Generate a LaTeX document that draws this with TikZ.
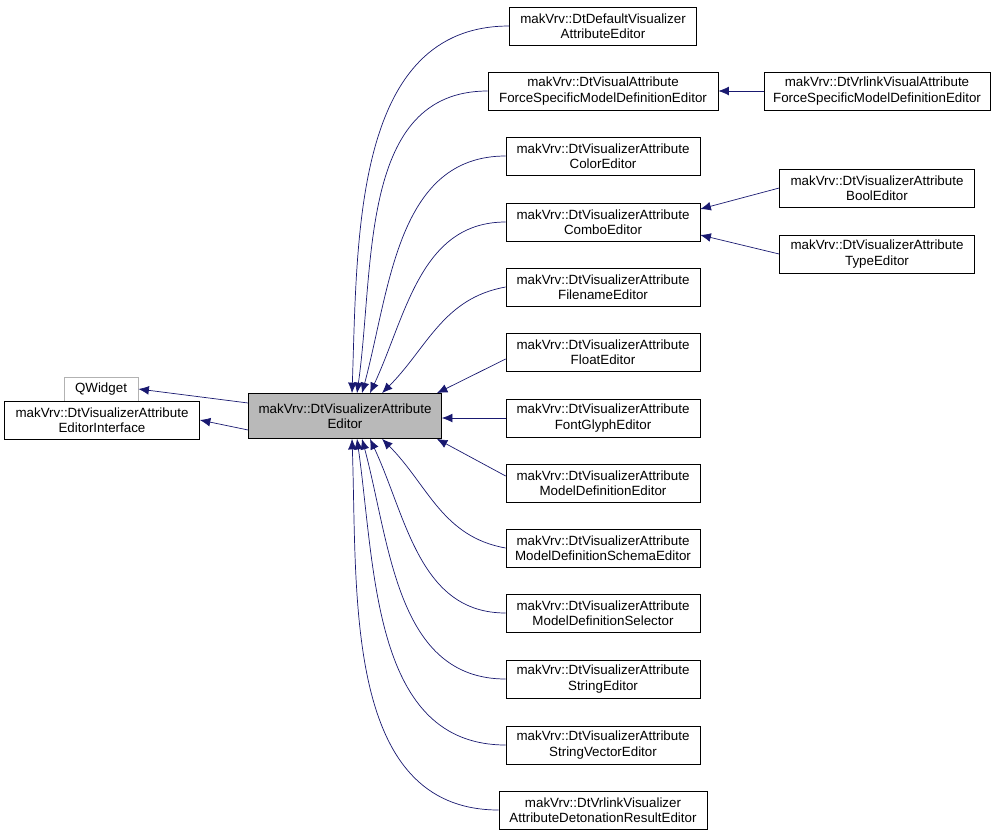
\documentclass[tikz,border=0pt]{standalone}
\usepackage{fontspec}
\setmainfont{Liberation Sans}
\usetikzlibrary{calc,arrows.meta}
\tikzset{
  cls/.style={rectangle, draw, fill=white, align=center, inner sep=1pt, minimum height=0.76cm, font=\fontsize{7.6}{8.8}\selectfont},
  edge/.style={draw=navy, {Latex[length=6pt,width=5pt]}-, thin},
}
\definecolor{navy}{RGB}{25,25,112}
\begin{document}
\begin{tikzpicture}[x=0.02cm, y=-0.02cm]
    \useasboundingbox (0,0) rectangle (997,836);
    \node (main) [cls, fill=gray!55, minimum width=3.86cm, minimum height=0.9cm] at (345,416) {makVrv::DtVisualizerAttribute\\Editor};
    \node (qwidget) [cls, draw=gray!60, minimum width=1.48cm, minimum height=0.48cm] at (101,389) {QWidget};
    \node (iface) [cls, minimum width=3.9cm] at (102,420) {makVrv::DtVisualizerAttribute\\EditorInterface};

    \node (default) [cls, minimum width=3.74cm] at (603,26) {makVrv::DtDefaultVisualizer\\AttributeEditor};
    \node (force) [cls, minimum width=4.6cm] at (603,91) {makVrv::DtVisualAttribute\\ForceSpecificModelDefinitionEditor};
    \node (color) [cls, minimum width=3.88cm] at (603,156) {makVrv::DtVisualizerAttribute\\ColorEditor};
    \node (combo) [cls, minimum width=3.88cm] at (603,222) {makVrv::DtVisualizerAttribute\\ComboEditor};
    \node (filename) [cls, minimum width=3.88cm] at (603,287) {makVrv::DtVisualizerAttribute\\FilenameEditor};
    \node (float) [cls, minimum width=3.88cm] at (603,352) {makVrv::DtVisualizerAttribute\\FloatEditor};
    \node (glyph) [cls, minimum width=3.88cm] at (603,418) {makVrv::DtVisualizerAttribute\\FontGlyphEditor};
    \node (modeldef) [cls, minimum width=3.88cm] at (603,483) {makVrv::DtVisualizerAttribute\\ModelDefinitionEditor};
    \node (schema) [cls, minimum width=3.88cm] at (603,548) {makVrv::DtVisualizerAttribute\\ModelDefinitionSchemaEditor};
    \node (selector) [cls, minimum width=3.88cm] at (603,613) {makVrv::DtVisualizerAttribute\\ModelDefinitionSelector};
    \node (string) [cls, minimum width=3.88cm] at (603,679) {makVrv::DtVisualizerAttribute\\StringEditor};
    \node (strvec) [cls, minimum width=3.88cm] at (603,745) {makVrv::DtVisualizerAttribute\\StringVectorEditor};
    \node (deton) [cls, minimum width=4.16cm] at (603,810) {makVrv::DtVrlinkVisualizer\\AttributeDetonationResultEditor};

    \node (vrforce) [cls, minimum width=4.52cm] at (877,91) {makVrv::DtVrlinkVisualAttribute\\ForceSpecificModelDefinitionEditor};
    \node (bool) [cls, minimum width=3.9cm] at (877,188) {makVrv::DtVisualizerAttribute\\BoolEditor};
    \node (type) [cls, minimum width=3.9cm] at (877,254) {makVrv::DtVisualizerAttribute\\TypeEditor};

    \draw[edge] (qwidget.east) -- (main.west |- 0,403);
    \draw[edge] (iface.east) -- (main.west |- 0,430);
    \draw[edge] (force.east) -- (vrforce.west);
    \draw[edge] ($(combo.east)+(0,-13)$) -- (bool.west);
    \draw[edge] ($(combo.east)+(0,13)$) -- (type.west);

    \draw[edge] ($(main.north)+(7,0)$) to[out=88,in=180] (default.west);
    \draw[edge] ($(main.north)+(12,0)$) to[out=82,in=180] (force.west);
    \draw[edge] ($(main.north)+(17,0)$) to[out=75,in=180] (color.west);
    \draw[edge] ($(main.north)+(25,0)$) to[out=65,in=180] (combo.west);
    \draw[edge] ($(main.north)+(37,0)$) to[out=45,in=190] (filename.west);
    \draw[edge] ($(main.north east)+(-5,0)$) -- ($(float.west)+(0,7)$);
    \draw[edge] (main.east |- glyph) -- (glyph.west);
    \draw[edge] ($(main.south east)+(-5,0)$) -- ($(modeldef.west)+(0,-7)$);
    \draw[edge] ($(main.south)+(37,0)$) to[out=-45,in=170] (schema.west);
    \draw[edge] ($(main.south)+(25,0)$) to[out=-65,in=180] (selector.west);
    \draw[edge] ($(main.south)+(17,0)$) to[out=-75,in=180] (string.west);
    \draw[edge] ($(main.south)+(12,0)$) to[out=-82,in=180] (strvec.west);
    \draw[edge] ($(main.south)+(7,0)$) to[out=-88,in=180] (deton.west);
\end{tikzpicture}
\end{document}
